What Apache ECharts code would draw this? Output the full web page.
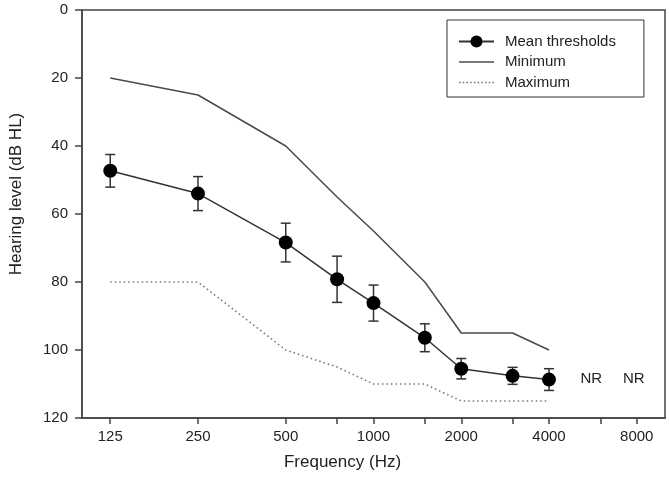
<!DOCTYPE html>
<html>
<head>
<meta charset="utf-8">
<script src="https://cdn.jsdelivr.net/npm/echarts@6/dist/echarts.min.js"></script>
<style>
html,body{margin:0;padding:0;background:#fff;}
#chart{width:669px;height:488px;}
</style>
</head>
<body>
<div id="chart"></div>
<script>
// ---- data ----
var freqs = [125, 250, 500, 750, 1000, 1500, 2000, 3000, 4000];
var meanThresholds = [47.3, 54, 68.4, 79.2, 86.2, 96.4, 105.5, 107.6, 108.7];
var meanError = [4.8, 5, 5.7, 6.8, 5.3, 4.1, 3, 2.5, 3.2];
var minimumLevels = [20, 25, 40, 55, 65, 80, 95, 95, 100];
var maximumLevels = [80, 80, 100, 105, 110, 110, 115, 115, 115];
var nrFreqs = [6000, 8000];
var nrLevel = 108.5;
var xTickLabels = [125, 250, 500, 1000, 2000, 4000, 8000];
var xTickMarks = [125, 250, 500, 750, 1000, 1500, 2000, 3000, 4000, 6000, 8000];

var FONT = '"Liberation Sans", Arial, sans-serif';
var TXT = '#222';
var AX = '#444';

function pairs(xs, ys) { return xs.map(function (x, i) { return [x, ys[i]]; }); }
var errData = freqs.map(function (f, i) { return [f, meanThresholds[i] - meanError[i], meanThresholds[i] + meanError[i]]; });
var nrData = nrFreqs.map(function (f, i) {
  return { value: [f, nrLevel], label: { offset: [i === 0 ? -9 : -3, 0] } };
});

// legend icons (styling only)
var solidIcon = 'path://M0,0H35V1.5H0Z';
var dotIcon = 'path://';
for (var k = 0; k < 35; k += 3.5) { dotIcon += 'M' + k + ',0h1.5v1.5h-1.5z'; }

var chart = echarts.init(document.getElementById('chart'), null, { renderer: 'canvas' });
chart.setOption({
  animation: false,
  backgroundColor: '#fff',
  textStyle: { fontFamily: FONT },
  grid: { left: 79, right: 4, top: 10, bottom: 70, show: true, borderColor: AX, borderWidth: 1.5, backgroundColor: 'transparent' },
  legend: {
    orient: 'vertical',
    left: 447, top: 20,
    padding: [14, 28, 7, 11],
    borderColor: '#333', borderWidth: 1,
    itemWidth: 35, itemHeight: 15, itemGap: 5.5,
    textStyle: { fontFamily: FONT, fontSize: 15, color: TXT, padding: [0, 0, 0, 6] },
    data: [
      { name: 'Mean thresholds' },
      { name: 'Minimum', icon: solidIcon },
      { name: 'Maximum', icon: dotIcon }
    ]
  },
  xAxis: {
    type: 'log', logBase: 10, min: 100, max: 10000,
    name: 'Frequency (Hz)', nameLocation: 'middle', nameGap: 36,
    nameTextStyle: { fontFamily: FONT, fontSize: 17, color: TXT, padding: [0, 62, 0, 0] },
    axisLine: { show: true, onZero: false, lineStyle: { color: AX, width: 1.5 } },
    axisTick: { show: true, inside: false, length: 6, customValues: xTickMarks, lineStyle: { color: AX, width: 1.5 } },
    axisLabel: { show: true, margin: 11, fontFamily: FONT, fontSize: 15, color: TXT, customValues: xTickLabels, formatter: function (v) { return String(Math.round(v)); } },
    splitLine: { show: false },
    minorTick: { show: false }
  },
  yAxis: {
    type: 'value', inverse: true, min: 0, max: 120, interval: 20,
    name: 'Hearing level (dB HL)', nameLocation: 'middle', nameGap: 57, nameRotate: 90,
    nameTextStyle: { fontFamily: FONT, fontSize: 17, color: TXT, padding: [0, 0, 0, 40] },
    axisLine: { show: true, onZero: false, lineStyle: { color: AX, width: 1.5 } },
    axisTick: { show: true, inside: false, length: 7, lineStyle: { color: AX, width: 1.5 } },
    axisLabel: { margin: 14, fontFamily: FONT, fontSize: 15, color: TXT },
    splitLine: { show: false }
  },
  series: [
    {
      name: 'Minimum', type: 'line', data: pairs(freqs, minimumLevels),
      symbol: 'none', lineStyle: { color: '#4a4a4a', width: 1.5 }, itemStyle: { color: '#4a4a4a' }, z: 2
    },
    {
      name: 'Maximum', type: 'line', data: pairs(freqs, maximumLevels),
      symbol: 'none', lineStyle: { color: '#777', width: 1.6, type: [1.5, 3] }, itemStyle: { color: '#777' }, z: 2
    },
    {
      name: 'Mean thresholds error', type: 'custom', data: errData, z: 3,
      renderItem: function (params, api) {
        var f = api.value(0);
        var p1 = api.coord([f, api.value(1)]);
        var p2 = api.coord([f, api.value(2)]);
        var hw = 5;
        var st = { stroke: '#333', lineWidth: 1.5 };
        return { type: 'group', children: [
          { type: 'line', shape: { x1: p1[0], y1: p1[1], x2: p2[0], y2: p2[1] }, style: st },
          { type: 'line', shape: { x1: p1[0] - hw, y1: p1[1], x2: p1[0] + hw, y2: p1[1] }, style: st },
          { type: 'line', shape: { x1: p2[0] - hw, y1: p2[1], x2: p2[0] + hw, y2: p2[1] }, style: st }
        ] };
      }
    },
    {
      name: 'Mean thresholds', type: 'line', data: pairs(freqs, meanThresholds),
      symbol: 'circle', symbolSize: 14, showAllSymbol: true,
      lineStyle: { color: '#333', width: 1.5 }, itemStyle: { color: '#000' }, z: 4
    },
    {
      name: 'NR', type: 'scatter', data: nrData, symbol: 'circle', symbolSize: 2, silent: true,
      itemStyle: { opacity: 0 },
      label: { show: true, position: 'inside', formatter: 'NR', fontFamily: FONT, fontSize: 15, color: TXT, opacity: 1 }
    }
  ]
});
</script>
</body>
</html>
